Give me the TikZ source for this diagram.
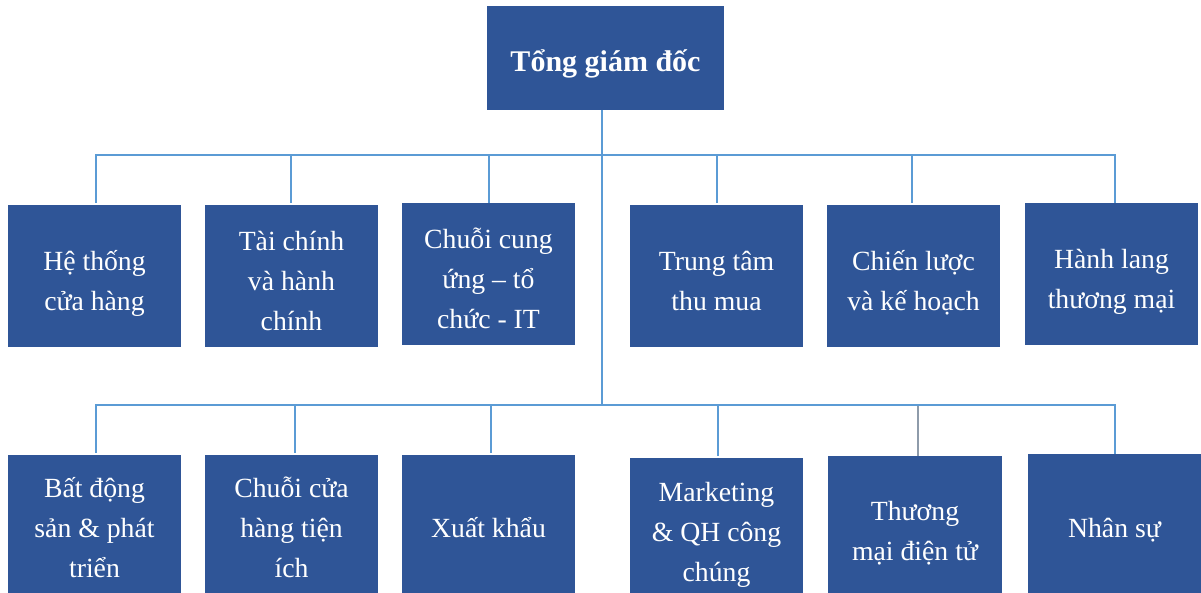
\documentclass[tikz,border=0pt]{standalone}
\usepackage{fontspec}
\setmainfont{Liberation Serif}
\usetikzlibrary{calc}
\definecolor{boxblue}{HTML}{2F5597}
\definecolor{lineblue}{HTML}{5B9BD5}
\definecolor{thingray}{HTML}{8E9BAA}
\newcommand\dn[2]{\raisebox{-#1}[\height][\depth]{\begin{tabular}{@{}c@{}}#2\end{tabular}}}
\begin{document}
\begin{tikzpicture}[x=0.75pt,y=-0.75pt,
  unit/.style={fill=boxblue, draw=none, text=white, inner sep=0pt,
    font=\fontsize{20.8}{30}\selectfont, minimum width=129.75pt, minimum height=106.5pt},
  lowunit/.style={unit, minimum height=108.75pt},
  conn/.style={draw=lineblue, line width=1.5pt},
  thinconn/.style={draw=thingray, line width=0.9pt}]
\useasboundingbox (0,0) rectangle (1201,592);
\clip (0,0) rectangle (1201,592);
% top
\node[fill=boxblue, text=white, inner sep=0pt, minimum width=177.75pt, minimum height=78pt,
  font=\fontsize{22.5}{27}\selectfont\bfseries] (top) at (605.5,58) {\dn{4.5pt}{Tổng giám đốc}};
% row 1
\node[unit] (r1) at (94.5,276) {\dn{4.5pt}{Hệ thống\\cửa hàng}};
\node[unit] (r2) at (291.5,276) {\dn{4.5pt}{Tài chính\\và hành\\chính}};
\node[unit] (r3) at (488.5,274) {\dn{4.5pt}{Chuỗi cung\\ứng – tổ\\chức - IT}};
\node[unit] (r4) at (716.5,276) {\dn{4.5pt}{Trung tâm\\thu mua}};
\node[unit] (r5) at (913.5,276) {\dn{4.5pt}{Chiến lược\\và kế hoạch}};
\node[unit] (r6) at (1111.5,274) {\dn{4.5pt}{Hành lang\\thương mại}};
% row 2
\node[lowunit] (s1) at (94.5,527.5) {\dn{1.5pt}{Bất động\\sản \& phát\\triển}};
\node[lowunit] (s2) at (291.5,527.5) {\dn{1.5pt}{Chuỗi cửa\\hàng tiện\\ích}};
\node[lowunit] (s3) at (488.5,527.5) {\dn{1.5pt}{Xuất khẩu}};
\node[unit] (s4) at (716.5,529) {\dn{3pt}{Marketing\\\& QH công\\chúng}};
\node[unit, minimum width=130.5pt, minimum height=108pt] (s5) at (915,528) {\dn{3pt}{Thương\\mại điện tử}};
\node[unit, minimum height=109.5pt] (s6) at (1114.5,527) {\dn{1.5pt}{Nhân sự}};
% buses
\coordinate (b1) at (602,155);
\coordinate (b2) at (602,405);
\coordinate (s5top) at ($(s5.north)+(3,0)$);
\draw[thinconn] (s5top) -- (s5top |- b2);
\draw[conn] (top.south -| b2) -- (b2);
\draw[conn] (b1) -| ($(r1.north)+(1.5,-2)$);
\draw[conn] (b1) -| ($(r2.north)+(-0.5,-2)$);
\draw[conn] (b1) -| ($(r3.north)+(0.5,0)$);
\draw[conn] (b1) -| ($(r4.north)+(0.5,-2)$);
\draw[conn] (b1) -| ($(r5.north)+(-1.5,-2)$);
\draw[conn] (b1) -| ($(r6.north)+(3.5,0)$);
\draw[conn] (b2) -| ($(s1.north)+(1.5,-2)$);
\draw[conn] (b2) -| ($(s2.north)+(3.5,-2)$);
\draw[conn] (b2) -| ($(s3.north)+(2.5,-2)$);
\draw[conn] (b2) -| ($(s4.north)+(1.5,-2)$);
\draw[conn] (b2) -| ($(s6.north)+(0.5,0)$);
\end{tikzpicture}
\end{document}
